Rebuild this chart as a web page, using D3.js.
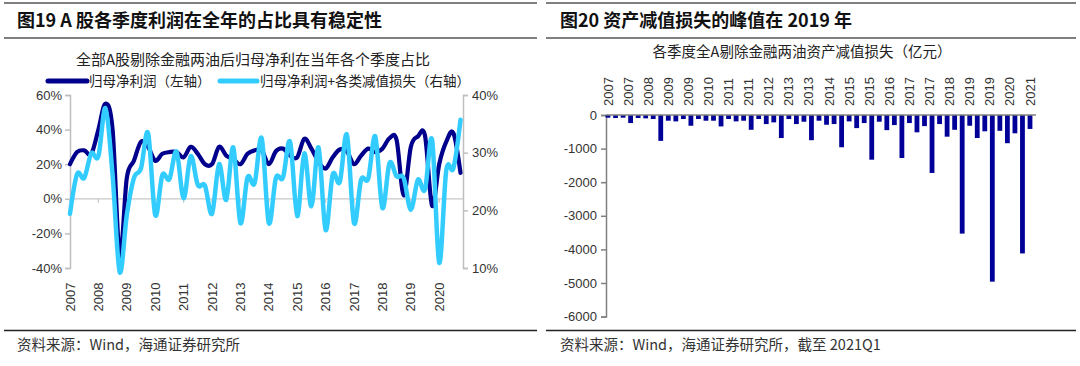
<!DOCTYPE html>
<html><head><meta charset="utf-8">
<script src="https://cdn.jsdelivr.net/npm/d3@7"></script>
<style>
body{margin:0;background:#fff;}
svg{display:block;}
.cjk{font-family:"Noto Sans CJK SC","Noto Sans",sans-serif;}
.num{font-family:"Liberation Sans",Arial,sans-serif;}
</style>
</head><body>
<svg id="c" width="1080" height="366"></svg>
<script>
// ---------- Left chart data (quarterly share of full-year profit) ----------
const quartersL = [
"2007Q1","2007Q2","2007Q3","2007Q4","2008Q1","2008Q2","2008Q3","2008Q4",
"2009Q1","2009Q2","2009Q3","2009Q4","2010Q1","2010Q2","2010Q3","2010Q4",
"2011Q1","2011Q2","2011Q3","2011Q4","2012Q1","2012Q2","2012Q3","2012Q4",
"2013Q1","2013Q2","2013Q3","2013Q4","2014Q1","2014Q2","2014Q3","2014Q4",
"2015Q1","2015Q2","2015Q3","2015Q4","2016Q1","2016Q2","2016Q3","2016Q4",
"2017Q1","2017Q2","2017Q3","2017Q4","2018Q1","2018Q2","2018Q3","2018Q4",
"2019Q1","2019Q2","2019Q3","2019Q4","2020Q1","2020Q2","2020Q3","2020Q4"];
// 归母净利润（左轴）, %
const profitShare = [
20,27,28,26, 40,55,40,-33,
12,22,33,30, 22,26,27,27,
24,30,26,20, 20,30,25,23,
20,26,28,28, 20,27.5,29,25,
24,34.7,29,21.5, 17.5,24,28.5,27.5,
20,25,29,27, 29,35,34,2,
30,36,36.5,-4, 20,33,38,15];
// 归母净利润+各类减值损失（右轴）, %
const profitImpShare = [
19.4,26.3,25.6,29.9, 29.4,37.7,26.1,9.3,
19.2,25.6,27.3,33.4, 19.2,26.1,25.4,30.2,
22.1,29.4,24.4,24.3, 19.4,28.0,21.8,30.9,
17.8,25.7,24.7,32.5, 17.8,25.6,25.7,31.9,
19.0,29.9,20.7,30.9, 16.6,26.2,24.9,33.1,
17.8,25.3,25.5,32.8, 20.4,28.2,25.9,25.6,
20.1,25.3,23.6,32.2, 10.9,27.0,27.3,35.7];
const yearsL = ["2007","2008","2009","2010","2011","2012","2013","2014","2015","2016","2017","2018","2019","2020"];
const leftTicks = [-40,-20,0,20,40,60];
const rightTicks = [10,20,30,40];

// ---------- Right chart data (asset impairment loss, 亿元) ----------
const quartersR = quartersL.concat(["2021Q1"]);
const impairment = [
-80,-90,-80,-240, -90,-100,-120,-770,
-170,-190,-120,-320, -120,-170,-170,-340,
-120,-190,-170,-440, -120,-270,-220,-685,
-120,-270,-200,-750, -170,-290,-270,-960,
-190,-390,-240,-1330, -200,-450,-300,-1280,
-240,-515,-330,-1725, -270,-645,-440,-3530,
-320,-685,-485,-4960, -470,-840,-545,-4120,
-415];
const labelsR = ["2007","2007","2008","2009","2009","2010","2011","2011","2012","2013","2013",
"2014","2015","2015","2016","2017","2017","2018","2019","2019","2020","2021"];
const barTicks = [0,-1000,-2000,-3000,-4000,-5000,-6000];

const svg = d3.select("#c");
const DARK = "#00008C", LIGHT = "#33CCFF", BAR = "#000099";

// ---------- frames ----------
function frame(x0, x1, title, tx) {
  svg.append("line").attr("x1",x0).attr("x2",x1).attr("y1",3).attr("y2",3).attr("stroke","#808080").attr("stroke-width",2);
  svg.append("line").attr("x1",x0).attr("x2",x1).attr("y1",38).attr("y2",38).attr("stroke","#808080").attr("stroke-width",2);
  svg.append("line").attr("x1",x0).attr("x2",x1).attr("y1",330.5).attr("y2",330.5).attr("stroke","#222").attr("stroke-width",1.3);
  svg.append("text").attr("class","cjk").attr("x",tx).attr("y",27).attr("font-size",18).attr("font-weight","bold").attr("fill","#111").text(title);
}
frame(4, 537, "图19 A 股各季度利润在全年的占比具有稳定性", 17);
frame(546, 1076, "图20 资产减值损失的峰值在 2019 年", 560);
svg.append("text").attr("class","cjk").attr("x",17).attr("y",350).attr("font-size",14.5).attr("fill","#333").text("资料来源：Wind，海通证券研究所");
svg.append("text").attr("class","cjk").attr("x",560).attr("y",350).attr("font-size",14.5).attr("fill","#333").text("资料来源：Wind，海通证券研究所，截至 2021Q1");

// ---------- Left chart ----------
const xL = d3.scalePoint().domain(quartersL).range([70, 460.5]);
const yL = d3.scaleLinear().domain([-40, 60]).range([268, 95]);
const yR = d3.scaleLinear().domain([10, 40]).range([268, 95]);

svg.append("text").attr("class","cjk").attr("x",253).attr("y",65).attr("text-anchor","middle").attr("font-size",15).attr("fill","#222")
  .text("全部A股剔除金融两油后归母净利在当年各个季度占比");

// legend
const lg = svg.append("g");
lg.append("line").attr("x1",48).attr("x2",87).attr("y1",81).attr("y2",81).attr("stroke",DARK).attr("stroke-width",5).attr("stroke-linecap","round");
lg.append("text").attr("class","cjk").attr("x",89).attr("y",86).attr("font-size",13.5).attr("fill","#222").text("归母净利润（左轴）");
lg.append("line").attr("x1",220).attr("x2",257).attr("y1",81).attr("y2",81).attr("stroke",LIGHT).attr("stroke-width",5).attr("stroke-linecap","round");
lg.append("text").attr("class","cjk").attr("x",260).attr("y",86).attr("font-size",13.5).attr("fill","#222").text("归母净利润+各类减值损失（右轴）");

// axes
const axL = svg.append("g").attr("transform","translate(70,0)")
  .call(d3.axisLeft(yL).tickValues(leftTicks).tickSize(5).tickPadding(3).tickFormat(d => d + "%"));
const axR = svg.append("g").attr("transform","translate(463,0)")
  .call(d3.axisRight(yR).tickValues(rightTicks).tickSize(5).tickPadding(4).tickFormat(d => d + "%"));
[axL, axR].forEach(a => {
  a.select(".domain").attr("stroke","#bfbfbf").attr("stroke-width",1.5);
  a.selectAll(".tick line").attr("stroke","#bfbfbf").attr("stroke-width",1.5);
  a.selectAll("text").attr("class","num").attr("font-size",13).attr("fill","#333");
});
// zero line (category axis)
svg.append("line").attr("x1",70).attr("x2",463).attr("y1",yL(0)).attr("y2",yL(0)).attr("stroke","#c8c8c8").attr("stroke-width",1.3);
const yearQ = quartersL.filter(q => q.endsWith("Q1"));
svg.append("g").selectAll("line").data(yearQ).join("line")
  .attr("x1",d=>xL(d)).attr("x2",d=>xL(d)).attr("y1",yL(0)).attr("y2",yL(0)+4).attr("stroke","#c8c8c8").attr("stroke-width",1.3);
svg.append("g").selectAll("text").data(yearsL).join("text")
  .attr("class","num").attr("font-size",13).attr("fill","#333")
  .attr("transform",(d,i)=>`translate(${xL(yearQ[i])+4.5},297) rotate(-90)`)
  .attr("text-anchor","middle").text(d=>d);

const curve = d3.curveCatmullRom.alpha(0);
svg.append("path").datum(profitShare).attr("fill","none").attr("stroke",DARK).attr("stroke-width",4.2)
  .attr("stroke-linejoin","round").attr("stroke-linecap","round")
  .attr("d", d3.line().x((d,i)=>xL(quartersL[i])).y(d=>yL(d)).curve(curve));
svg.append("path").datum(profitImpShare).attr("fill","none").attr("stroke",LIGHT).attr("stroke-width",4.5)
  .attr("stroke-linejoin","round").attr("stroke-linecap","round")
  .attr("d", d3.line().x((d,i)=>xL(quartersL[i])).y(d=>yR(d)).curve(curve));

// ---------- Right chart ----------
svg.append("text").attr("class","cjk").attr("x",802).attr("y",57).attr("text-anchor","middle").attr("font-size",14.5).attr("fill","#222")
  .text("各季度全A剔除金融两油资产减值损失（亿元）");
// month-index scale: 2007-03 = 0 ... 2021-03 = 168
const xB = d3.scaleLinear().domain([0, 168]).range([608, 1030]);
const yB = d3.scaleLinear().domain([-6000, 0]).range([316.6, 115]);
const axB = svg.append("g").attr("transform","translate(606,0)")
  .call(d3.axisLeft(yB).tickValues(barTicks).tickSize(5).tickPadding(4).tickFormat(d => String(d)));
axB.select(".domain").attr("stroke","#808080").attr("stroke-width",1.5);
axB.selectAll(".tick line").attr("stroke","#808080").attr("stroke-width",1.5);
axB.selectAll("text").attr("class","num").attr("font-size",13).attr("fill","#333");

svg.append("g").selectAll("rect").data(impairment).join("rect")
  .attr("x",(d,i)=>xB(i*3)-2.4).attr("width",4.8)
  .attr("y",yB(0)).attr("height",d=>yB(d)-yB(0)).attr("fill",BAR);
svg.append("line").attr("x1",606).attr("x2",1036).attr("y1",yB(0)).attr("y2",yB(0)).attr("stroke","#808080").attr("stroke-width",1.5);
svg.append("g").selectAll("text").data(labelsR).join("text")
  .attr("class","num").attr("font-size",13).attr("fill","#333")
  .attr("transform",(d,i)=>`translate(${xB(i*8)+4.5},106) rotate(-90)`)
  .attr("text-anchor","start").text(d=>d);
</script>
</body></html>
